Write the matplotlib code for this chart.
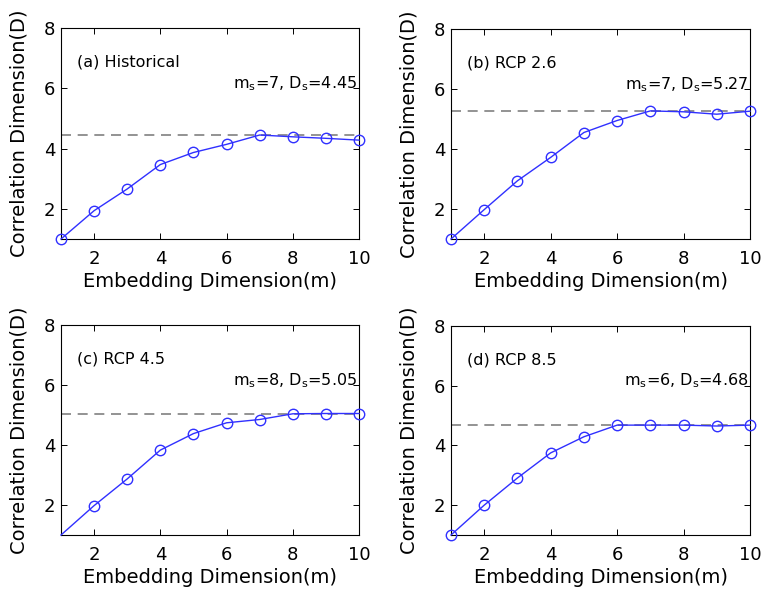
import numpy as np
import matplotlib
matplotlib.use("Agg")
import matplotlib.pyplot as plt

plt.rcParams['font.family'] = ['DejaVu Sans']
plt.rcParams['mathtext.default'] = 'regular'

# 嵌入维数 m
m = [1, 2, 3, 4, 5, 6, 7, 8, 9, 10]

# 各情景的关联维数
D_hist = [1.00, 1.94, 2.66, 3.47, 3.87, 4.14, 4.45, 4.39, 4.34, 4.28]
D_rcp26 = [1.00, 1.98, 2.94, 3.72, 4.55, 4.95, 5.27, 5.24, 5.16, 5.26]
D_rcp45 = [1.00, 1.98, 2.87, 3.83, 4.38, 4.74, 4.85, 5.04, 5.05, 5.05]
D_rcp85 = [1.00, 2.00, 2.91, 3.75, 4.29, 4.68, 4.68, 4.68, 4.65, 4.68]

titles = ['(a) Historical', '(b) RCP 2.6', '(c) RCP 4.5', '(d) RCP 8.5']
m_s = [7, 7, 8, 6]
D_s = [4.45, 5.27, 5.05, 4.68]
series = [D_hist, D_rcp26, D_rcp45, D_rcp85]

W, H = 764, 592
fig = plt.figure(figsize=(W / 100, H / 100), dpi=100)

# 每个子图的像素位置 (left, top, right, bottom)
boxes = [(61, 28, 359, 239), (451, 29, 750, 239),
         (61, 325, 359, 535), (451, 326, 750, 535)]

for i, (l, t, r, b) in enumerate(boxes):
    ax = fig.add_axes([l / W, (H - b) / H, (r - l) / W, (b - t) / H])
    ax.axhline(D_s[i], color='#808080', linestyle=(0, (6, 4)), lw=1.2, zorder=1)
    # (c) 第一个点没有画圈
    mk = list(range(1, 10)) if i == 2 else None
    ax.plot(m, series[i], color='#3030ff', lw=1.0, marker='o', markersize=7.5,
            markerfacecolor='none', markeredgecolor='#3030ff', markeredgewidth=1.0,
            markevery=mk, zorder=3, clip_on=False)
    ax.set_xlim(1, 10)
    ax.set_ylim(1, 8)
    ax.set_xticks([2, 4, 6, 8, 10])
    ax.set_yticks([2, 4, 6, 8])
    ax.tick_params(direction='in', top=True, right=True, labelsize=13, length=4, width=0.7)
    ax.tick_params(axis='x', pad=8)
    ax.tick_params(axis='y', pad=4)
    for s in ax.spines.values():
        s.set_linewidth(0.8)
    ax.set_xlabel('Embedding Dimension(m)', fontsize=14, labelpad=3)
    ax.set_ylabel('Correlation Dimension(D)', fontsize=14, labelpad=11)
    ax.text(1.47, 6.72, titles[i], fontsize=11.5, va='baseline', ha='left')
    ax.text(9.95, 6.0, 'm$_s$=%d, D$_s$=%.2f' % (m_s[i], D_s[i]),
            fontsize=11.5, va='baseline', ha='right')

fig.savefig('out.png', dpi=100)
